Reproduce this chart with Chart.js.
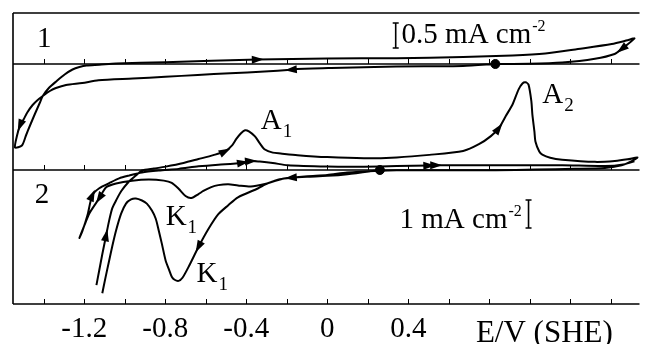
<!DOCTYPE html>
<html>
<head>
<meta charset="utf-8">
<script src="https://cdn.jsdelivr.net/npm/chart.js@4.4.0/dist/chart.umd.min.js"></script>
<style>
  html, body { margin: 0; padding: 0; background: #fff; }
</style>
</head>
<body>
<canvas id="cv" width="645" height="344"></canvas>
<script>
// potential axis, V vs SHE
const xMin = -1.552
const xMax = 1.542
const labelledTicks = [-1.2, -0.8, -0.4, 0, 0.4]

// curve 1 (upper trace), E in V and j in mA cm-2
const cv1E = [0.83, 0.67, 0.34, 0.02, -0.15, -0.18, -0.31, -0.48, -0.64, -0.80, -0.96, -1.13, -1.21, -1.29, -1.34,
  -1.37, -1.405, -1.43, -1.455, -1.48, -1.50, -1.517, -1.532, -1.542, -1.508, -1.488, -1.468, -1.444, -1.419, -1.405,
  -1.375, -1.336, -1.297, -1.258, -1.224, -1.189, -1.126, -1.043, -0.80, -0.343, 0.0, 0.343, 0.671, 0.915, 1.077,
  1.238, 1.405, 1.483, 1.517, 1.454, 1.419, 1.322, 1.160, 0.994, 0.83]
const cv1I = [0, -0.04, -0.05, -0.08, -0.10, -0.115, -0.15, -0.185, -0.22, -0.255, -0.29, -0.325, -0.38, -0.42, -0.48,
  -0.54, -0.64, -0.72, -0.82, -0.96, -1.11, -1.23, -1.43, -1.67, -1.63, -1.43, -1.23, -1.00, -0.77, -0.64,
  -0.48, -0.34, -0.21, -0.11, -0.06, -0.03, -0.015, 0.01, 0.035, 0.09, 0.11, 0.116, 0.14, 0.17, 0.21,
  0.30, 0.40, 0.475, 0.51, 0.30, 0.20, 0.105, 0.03, 0.005, 0]
const cv1Arrows = [5, 21, 39, 49]
const rest1 = 0.83

// curve 2 (lower trace), two sweeps
const cv2E = [0.26, 0.10, 0.0, -0.10, -0.18, -0.22,
  -0.294, -0.343, -0.441, -0.489, -0.538, -0.587, -0.636, -0.685, -0.715, -0.734, -0.754, -0.768, -0.783, -0.798,
  -0.817, -0.832, -0.847, -0.866, -0.891, -0.915, -0.945, -0.969, -0.994, -1.018, -1.043, -1.062, -1.077, -1.096, -1.111,
  -1.13,
  -1.140, -1.126, -1.111, -1.092, -1.077, -1.062, -1.043, -1.018, -0.979, -0.945, -0.915, -0.856, -0.798, -0.710,
  -0.636, -0.563, -0.504, -0.470, -0.450, -0.426, -0.406, -0.387, -0.357, -0.333, -0.308, -0.269, -0.230, -0.147,
  0.0, 0.181, 0.343, 0.504, 0.671, 0.749, 0.808, 0.847, 0.881, 0.915, 0.945, 0.964, 0.979, 0.994, 1.008, 1.013,
  1.023, 1.028, 1.047, 1.062, 1.101, 1.160, 1.322, 1.420, 1.483, 1.532,
  1.493, 1.454, 1.371, 1.224, 1.028, 0.832, 0.587, 0.343, 0.259, 0.098, 0.0, -0.098, -0.181, -0.235,
  -0.269, -0.308, -0.377, -0.441, -0.489, -0.538, -0.573, -0.612, -0.636, -0.671, -0.700, -0.734, -0.768, -0.807,
  -0.881, -0.964, -1.043, -1.092, -1.126, -1.175, -1.199, -1.224,
  -1.209, -1.184, -1.160, -1.126, -1.077, -1.028, -0.979, -0.915, -0.832, -0.734, -0.636, -0.538, -0.465, -0.416,
  -0.377, -0.333, -0.269, -0.196, 0.0, 0.181, 0.343, 0.504, 0.538, 0.832, 1.160, 1.371, 1.470, 1.517]
const cv2I = [0, -0.15, -0.21, -0.24, -0.275, -0.31,
  -0.48, -0.66, -0.975, -1.26, -1.58, -2.11, -2.75, -3.46, -3.85, -3.96, -3.92, -3.81, -3.53, -3.24,
  -2.63, -2.17, -1.74, -1.45, -1.20, -1.09, -1.02, -1.05, -1.20, -1.56, -2.16, -2.73, -3.23, -3.87, -4.40,
  null,
  -4.11, -3.58, -3.01, -2.33, -1.80, -1.37, -1.09, -0.76, -0.41, -0.20, -0.02, 0.05, 0.12, 0.25,
  0.39, 0.53, 0.67, 0.88, 1.10, 1.31, 1.42, 1.38, 1.20, 0.95, 0.73, 0.62, 0.59, 0.53,
  0.46, 0.42, 0.45, 0.54, 0.68, 0.92, 1.21, 1.49, 1.92, 2.34, 2.88, 3.09, 3.13, 3.05, 2.45, 1.98,
  1.38, 1.02, 0.66, 0.55, 0.44, 0.37, 0.29, 0.32, 0.38, 0.45,
  0.28, 0.17, 0.07, 0.04, 0.02, -0.01, -0.01, -0.01, -0.025, -0.09, -0.18, -0.22, -0.275, -0.33,
  -0.41, -0.50, -0.59, -0.55, -0.51, -0.54, -0.61, -0.75, -0.86, -1.00, -0.93, -0.67, -0.46, -0.38,
  -0.34, -0.38, -0.48, -0.62, -1.01, -1.55, -1.97, -2.43,
  -2.18, -1.61, -0.90, -0.65, -0.47, -0.30, -0.20, -0.09, -0.02, 0.04, 0.13, 0.19, 0.22, 0.26,
  0.32, 0.30, 0.25, 0.17, 0.125, 0.12, 0.14, 0.16, 0.17, 0.17, 0.17, 0.14, 0.21, 0.31]
const cv2Arrows = [4, 12, 39, 52, 71, 122, 128, 139, 140, 147, 148]
const rest2 = 0.26

// current scales of the two panels (mA cm-2 over the plot height)
const y1Range = [-4.8, 1.02]
const y2Range = [-4.786, 5.607]

const serif = 'Liberation Serif'

const toPoints = (es, is) => es.map((e, k) => ({ x: e, y: is[k] }))

const curve = (es, is, axis, arrows) => ({
  data: toPoints(es, is),
  yAxisID: axis,
  borderColor: '#000',
  borderWidth: 2,
  pointRadius: 0,
  tension: 0.25,
  fill: false,
  arrows
})

const restDot = (e, axis) => ({
  type: 'scatter',
  data: [{ x: e, y: 0 }],
  yAxisID: axis,
  pointRadius: 4.5,
  pointBackgroundColor: '#000',
  pointBorderColor: '#000'
})

function drawText(ctx, s, x, y, size) {
  ctx.font = size + 'px "' + serif + '"'
  ctx.fillText(s, x, y)
  return x + ctx.measureText(s).width
}

const decorations = {
  id: 'decorations',
  afterDatasetsDraw(chart) {
    const { ctx, chartArea: a, scales } = chart
    const sx = scales.x
    const rows = [a.bottom, scales.y1.getPixelForValue(0), scales.y2.getPixelForValue(0)]
    ctx.save()
    ctx.strokeStyle = '#000'
    ctx.fillStyle = '#000'

    // box: top, left side, bottom, and the zero line of each trace
    ctx.lineWidth = 1.6
    ctx.beginPath()
    ctx.moveTo(a.left, a.top); ctx.lineTo(a.right, a.top)
    ctx.moveTo(a.left, a.top); ctx.lineTo(a.left, a.bottom)
    rows.forEach(y => { ctx.moveTo(a.left, y); ctx.lineTo(a.right, y) })
    ctx.stroke()

    // inward ticks on every horizontal axis
    ctx.lineWidth = 1
    ctx.beginPath()
    sx.ticks.forEach(t => {
      const px = Math.round(sx.getPixelForValue(t.value)) + 0.5
      rows.forEach(y => { ctx.moveTo(px, y); ctx.lineTo(px, y - 5) })
    })
    ctx.stroke()

    // sweep direction arrowheads
    chart.data.datasets.forEach((ds, di) => {
      if (!ds.arrows) return
      const pts = chart.getDatasetMeta(di).data
      ds.arrows.forEach(k => {
        const p = pts[k], p0 = pts[k - 1], p1 = pts[k + 1]
        const ang = Math.atan2(p1.y - p0.y, p1.x - p0.x)
        ctx.save()
        ctx.translate(p.x, p.y)
        ctx.rotate(ang)
        ctx.beginPath()
        ctx.moveTo(6, 0)
        ctx.lineTo(-6, -4)
        ctx.lineTo(-6, 4)
        ctx.closePath()
        ctx.fill()
        ctx.restore()
      })
    })

    const X = e => sx.getPixelForValue(e)
    const Y1 = j => scales.y1.getPixelForValue(j)
    const Y2 = j => scales.y2.getPixelForValue(j)

    // scale bars
    const bar = (x, ya, yb) => {
      ctx.lineWidth = 1.6
      ctx.beginPath()
      ctx.moveTo(x, ya); ctx.lineTo(x, yb)
      ctx.moveTo(x - 3, ya); ctx.lineTo(x + 3, ya)
      ctx.moveTo(x - 3, yb); ctx.lineTo(x + 3, yb)
      ctx.stroke()
    }
    bar(X(0.338), Y1(0.32), Y1(0.82))
    bar(X(0.994), Y2(-2.07), Y2(-1.07))

    ctx.textBaseline = 'alphabetic'
    ctx.textAlign = 'left'
    drawText(ctx, '1', X(-1.434), Y1(0.34), 29)
    drawText(ctx, '2', X(-1.444), Y2(-1.18), 29)

    const peak = (main, sub, e, j) => {
      const x = X(e), y = Y2(j)
      const r = drawText(ctx, main, x, y, 29)
      drawText(ctx, sub, r + 1, y + 8, 19)
    }
    peak('A', '1', -0.328, 1.46)
    peak('A', '2', 1.062, 2.39)
    peak('K', '1', -0.798, -1.96)
    peak('K', '1', -0.646, -4.0)

    const unit = (s, x, y) => {
      const r = drawText(ctx, s, x, y, 29)
      drawText(ctx, '-2', r + 1, y - 12, 16)
    }
    unit('0.5 mA cm', X(0.367), Y1(0.42))
    unit('1 mA cm', X(0.357), Y2(-2.07))

    drawText(ctx, 'E/V (SHE)', X(0.734), a.bottom + 38, 31)
    ctx.restore()
  }
}

new Chart(document.getElementById('cv'), {
  type: 'line',
  data: {
    datasets: [
      curve(cv1E, cv1I, 'y1', cv1Arrows),
      curve(cv2E, cv2I, 'y2', cv2Arrows),
      restDot(rest1, 'y1'),
      restDot(rest2, 'y2')
    ]
  },
  options: {
    responsive: false,
    animation: false,
    devicePixelRatio: 1,
    layout: { padding: { left: 13, top: 13, right: 0, bottom: 0 } },
    plugins: { legend: { display: false }, tooltip: { enabled: false } },
    scales: {
      x: {
        type: 'linear',
        min: xMin,
        max: xMax,
        grid: { display: false, drawTicks: false },
        border: { display: false },
        afterFit: s => { s.height = 40 },
        ticks: {
          stepSize: 0.2,
          includeBounds: false,
          autoSkip: false,
          maxRotation: 0,
          padding: 11,
          color: '#000',
          font: { family: serif, size: 29, lineHeight: 1 },
          callback: v => {
            const r = Math.round(v * 10) / 10
            return labelledTicks.includes(r) ? String(r === 0 ? 0 : r) : ''
          }
        }
      },
      y1: { type: 'linear', min: y1Range[0], max: y1Range[1], display: false },
      y2: { type: 'linear', min: y2Range[0], max: y2Range[1], display: false }
    }
  },
  plugins: [decorations]
})
</script>
</body>
</html>
